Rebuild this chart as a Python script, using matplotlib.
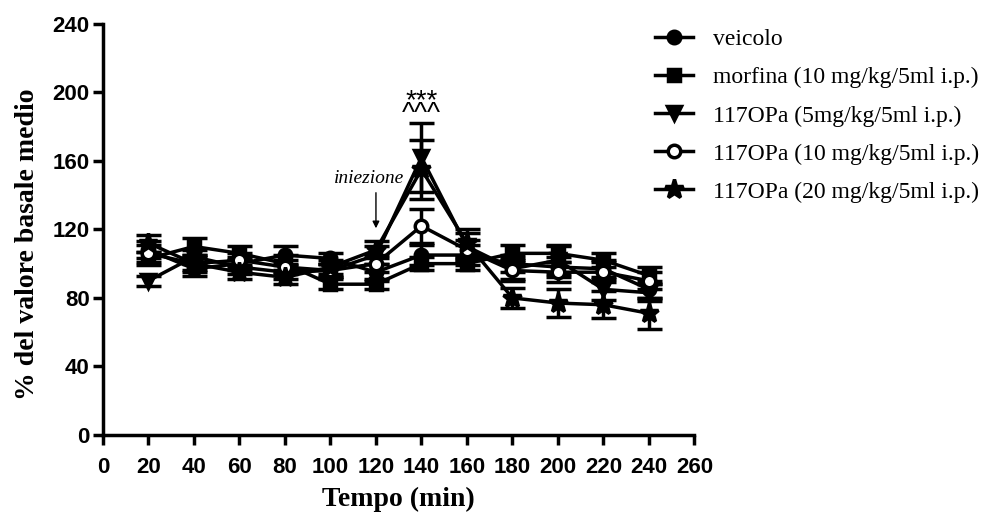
import matplotlib.pyplot as plt
from matplotlib.lines import Line2D
import numpy as np

# time points (min)
tempo = [20, 40, 60, 80, 100, 120, 140, 160, 180, 200, 220, 240]

labels = ['veicolo', 'morfina (10 mg/kg/5ml i.p.)', '117OPa (5mg/kg/5ml i.p.)',
          '117OPa (10 mg/kg/5ml i.p.)', '117OPa (20 mg/kg/5ml i.p.)']

veicolo = [108, 97, 100, 105, 103, 95, 105, 105, 100, 98, 97, 85]
veicolo_err = [5, 4, 4, 5, 3, 5, 6, 6, 5, 6, 5, 5]
morfina = [103, 110, 106, 100, 88, 88, 100, 100, 106, 106, 102, 93]
morfina_err = [4, 5, 4, 5, 3, 3, 4, 4, 5, 5, 4, 5]
opa5 = [90, 104, 98, 95, 96, 105, 162, 110, 97, 102, 85, 83]
opa5_err = [3, 4, 4, 4, 4, 5, 20, 8, 6, 8, 6, 5]
opa10 = [106, 100, 102, 98, 96, 100, 122, 108, 96, 95, 95, 90]
opa10_err = [5, 4, 4, 4, 4, 5, 10, 6, 6, 6, 6, 5]
opa20 = [112, 100, 95, 92, 98, 108, 155, 112, 80, 77, 76, 71]
opa20_err = [5, 5, 4, 4, 4, 5, 17, 8, 6, 8, 8, 9]

series = [veicolo, morfina, opa5, opa10, opa20]
errors = [veicolo_err, morfina_err, opa5_err, opa10_err, opa20_err]
markers = ['o', 's', 'v', 'o', '*']
faces = ['black', 'black', 'black', 'white', 'black']
sizes = [9, 9, 10, 9, 14]

fig = plt.figure(figsize=(9.94, 5.16), dpi=100)
ax = fig.add_axes([0.1036, 0.157, 0.595, 0.797])

for y, e, m, fc, ms, lab in zip(series, errors, markers, faces, sizes, labels):
    ax.errorbar(tempo, y, yerr=e, color='black', marker=m, markerfacecolor=fc,
                markeredgecolor='black', markeredgewidth=2.5, markersize=ms,
                linewidth=2.5, elinewidth=2.5, capsize=9, capthick=4, label=lab)

ax.set_xlim(0, 260)
ax.set_ylim(0, 240)
ax.set_xticks(np.arange(0, 261, 20))
ax.set_yticks(np.arange(0, 241, 40))
for lbl in ax.get_xticklabels() + ax.get_yticklabels():
    lbl.set_fontfamily('Liberation Sans')
    lbl.set_fontweight('bold')
    lbl.set_fontsize(16)

ax.spines['top'].set_visible(False)
ax.spines['right'].set_visible(False)
ax.spines['left'].set_linewidth(2.5)
ax.spines['bottom'].set_linewidth(2.5)
ax.tick_params(width=2.5, length=7.5, direction='out')
ax.tick_params(axis='x', pad=8)
ax.tick_params(axis='y', pad=2)

ax.set_xlabel('Tempo (min)', fontfamily='Liberation Serif', fontweight='bold', fontsize=20, labelpad=7)
ax.set_ylabel('% del valore basale medio', fontfamily='Liberation Serif', fontweight='bold',
              fontsize=20)
ax.yaxis.set_label_coords(-0.107, 0.465)

# injection annotation
ax.annotate('', xy=(120, 119), xytext=(120, 143),
            arrowprops=dict(arrowstyle='-|>', color='black', lw=1, mutation_scale=10))
ax.text(117, 145, 'iniezione', fontfamily='Liberation Serif', fontstyle='italic',
        fontsize=14, ha='center', va='bottom')
# significance marks above the 140 min peak
ax.text(140, 180, '***\n^^^', fontfamily='Liberation Sans', fontsize=20, ha='center',
        va='bottom', multialignment='center', linespacing=0.32)

handles = [Line2D([], [], color='black', marker=m, markerfacecolor=fc, markeredgecolor='black',
                  markeredgewidth=2.5, markersize=ms, linewidth=2.5)
           for m, fc, ms in zip(markers, faces, sizes)]
fig.legend(handles, labels, loc='upper left', bbox_to_anchor=(0.659, 0.944), frameon=False,
           prop={'family': 'Liberation Serif', 'size': 17}, labelspacing=0.7,
           handlelength=1.6, handletextpad=0.85, borderpad=0, borderaxespad=0)

fig.savefig('out.png', dpi=100)
